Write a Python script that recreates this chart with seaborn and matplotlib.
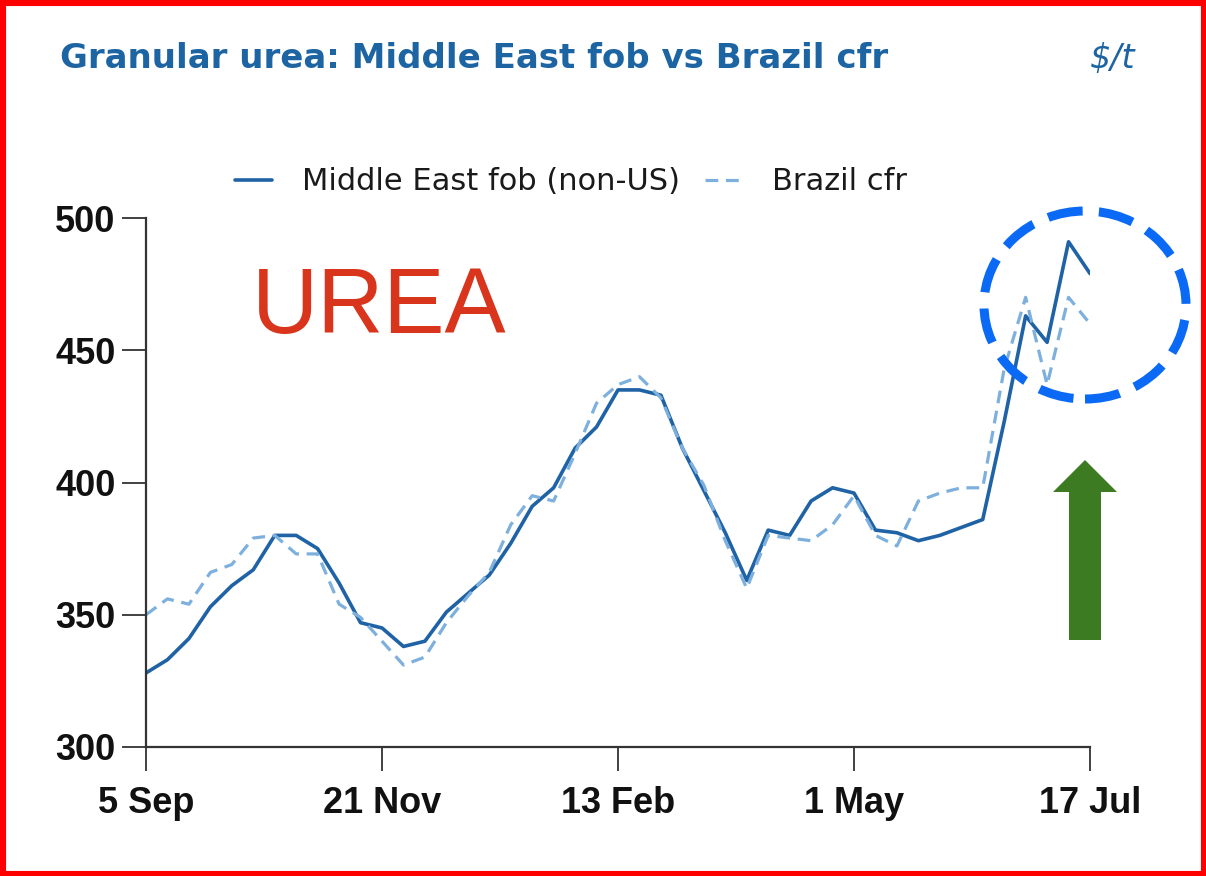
"""
Granular urea: Middle East fob vs Brazil cfr, weekly prices in $/t
"""

import numpy as np
import pandas as pd
import matplotlib
matplotlib.use('Agg')  # Non-interactive backend
import matplotlib.pyplot as plt
import seaborn as sns
from matplotlib.patches import Ellipse, Polygon, Rectangle

# Weekly observations, 5 Sep to 17 Jul (45 points)
week_index = list(range(45))
tick_positions = [0, 11, 22, 33, 44]
tick_labels = ['5 Sep', '21 Nov', '13 Feb', '1 May', '17 Jul']
y_ticks = [300, 350, 400, 450, 500]

middle_east_fob = [
    328, 333, 341, 353, 361, 367, 380, 380, 375, 362,
    347, 345, 338, 340, 351, 358, 365, 377, 391, 398,
    413, 421, 435, 435, 433, 413, 397, 381, 363, 382,
    380, 393, 398, 396, 382, 381, 378, 380, 383, 386,
    423, 463, 453, 491, 479,
]
brazil_cfr = [
    350, 356, 354, 366, 369, 379, 380, 373, 373, 354,
    349, 340, 331, 334, 347, 357, 366, 384, 395, 393,
    411, 430, 437, 440, 432, 413, 399, 378, 360, 380,
    379, 378, 384, 395, 380, 376, 393, 396, 398, 398,
    443, 470, 437, 470, 460,
]

W, H = 1206, 876

sns.set_style('white')
plt.rcParams['font.family'] = ['DejaVu Sans']

df = pd.DataFrame({'week': week_index, 'me': middle_east_fob, 'br': brazil_cfr})

fig = plt.figure(figsize=(W / 100, H / 100), dpi=100)
ax = fig.add_axes([146 / W, 1 - 747 / H, (1090 - 146) / W, (747 - 218) / H])

sns.lineplot(data=df, x='week', y='me', ax=ax, color='#1f62a5', linewidth=2.6,
             label='Middle East fob (non-US)')
sns.lineplot(data=df, x='week', y='br', ax=ax, color='#7eb0dd', linewidth=2.3,
             linestyle=(0, (4, 2.4)), label='Brazil cfr')

ax.set_xlim(0, 44)
ax.set_ylim(300, 500)
ax.set_xticks(tick_positions)
ax.set_xticklabels(tick_labels)
ax.set_yticks(y_ticks)
ax.set_xlabel('')
ax.set_ylabel('')

for side in ['top', 'right']:
    ax.spines[side].set_visible(False)
for side in ['left', 'bottom']:
    ax.spines[side].set_color('#333333')
    ax.spines[side].set_linewidth(1.6)

ax.tick_params(axis='both', direction='out', length=17, width=1.3, color='#333333',
               bottom=True, left=True)
ax.tick_params(axis='x', pad=11)
ax.tick_params(axis='y', pad=5)
for lbl in ax.get_xticklabels() + ax.get_yticklabels():
    lbl.set_fontfamily('Liberation Sans')
    lbl.set_fontweight('bold')
    lbl.set_fontsize(26)
    lbl.set_color('#111111')

leg = ax.legend(loc='center', bbox_to_anchor=(571 / W, 1 - 182 / H),
                bbox_transform=fig.transFigure, ncol=2, frameon=False,
                fontsize=22, handlelength=1.2, handletextpad=1.0,
                columnspacing=0.8)
for t in leg.get_texts():
    t.set_color('#1a1a1a')

# title and unit
fig.text(60 / W, 1 - 68 / H, 'Granular urea: Middle East fob vs Brazil cfr',
         color='#1d64a3', fontsize=24.5, fontweight='semibold', va='baseline')
fig.text(1136 / W, 1 - 68 / H, '$/t', color='#1d64a3', fontsize=24,
         style='italic', ha='right', va='baseline')

# annotations
fig.text(252 / W, 1 - 333 / H, 'UREA', color='#d9341c', fontsize=66,
         family='Liberation Sans', va='baseline')

ellipse = Ellipse((1085 / W, 1 - 305 / H), 202 / W, 188 / H, transform=fig.transFigure,
                  fill=False, edgecolor='#0a6af5', linewidth=6.5,
                  linestyle=(0, (3.9, 1.8)))
fig.patches.append(ellipse)

arrow_px = [(1069, 640), (1069, 492), (1053, 492), (1085, 460),
            (1117, 492), (1101, 492), (1101, 640)]
arrow = Polygon([(x / W, 1 - y / H) for x, y in arrow_px], closed=True,
                transform=fig.transFigure, facecolor='#3d7b22', edgecolor='none')
fig.patches.append(arrow)

# red frame
frame = Rectangle((0, 0), 1, 1, transform=fig.transFigure, fill=False,
                  edgecolor='#ff0000', linewidth=8)
fig.patches.append(frame)

fig.savefig('out.png', dpi=100)
plt.close(fig)
